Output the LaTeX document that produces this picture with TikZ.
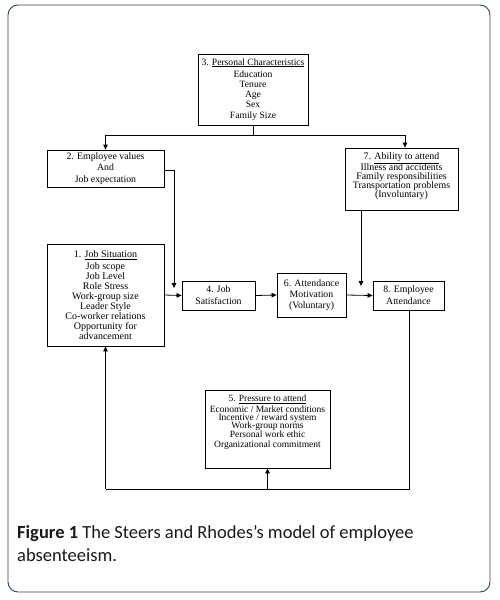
\documentclass[tikz,border=0pt]{standalone}
\usepackage{fontspec}
\setmainfont{Liberation Serif}
\newfontfamily\capfont{Carlito}
\usetikzlibrary{arrows.meta}
\definecolor{framecol}{RGB}{52,66,82}
\newcommand{\fsz}[2]{\fontsize{#1}{#2}\selectfont\lineskiplimit=-100pt\relax}
\begin{document}
\begin{tikzpicture}[x=1pt,y=-1pt,
  box/.style={draw=black,line width=0.8pt,inner sep=0pt,align=center,
    font=\fsz{9.8}{9.4}},
  txt/.style={inner sep=0pt,align=center},
  conn/.style={line width=0.8pt},
  arr/.style={line width=0.8pt,-{Triangle[length=5pt,width=4.5pt]}}]
\useasboundingbox (0,0) rectangle (499,600);
\draw[framecol,line width=0.9pt,rounded corners=10pt] (8,5) rectangle (490,592);
% boxes
\node[box,minimum width=110pt,minimum height=71pt,font=\fsz{9.6}{10}] (b3) at (253,89.5)
  {3. \underline{Personal Characteristics}\\[2pt]Education\\Tenure\\Age\\Sex\\[1.5pt]Family Size};
\node[box,minimum width=117pt,minimum height=37pt,font=\fsz{9.8}{11.7}] (b2) at (105.5,168.5)
  {2. Employee values\\And\\Job expectation};
\node[box,minimum width=113pt,minimum height=62pt] (b7) at (401.5,179) {};
\node[txt,font=\fsz{9.9}{8.8}] (t7) at (401.5,176)
  {7. \underline{Ability to attend}\\[2.5pt]Illness and accidents\\Family responsibilities\\Transportation problems\\(Involuntary)};
\node[box,minimum width=117pt,minimum height=102pt,font=\fsz{10}{10}] (b1) at (105.5,295)
  {1. \underline{Job Situation}\\[2pt]Job scope\\Job Level\\Role Stress\\Work-group size\\Leader Style\\Co-worker relations\\Opportunity for\\advancement};
\node[box,minimum width=73pt,minimum height=29pt,font=\fsz{9.8}{12}] (b4) at (218.5,295.5)
  {4. Job\\Satisfaction};
\node[box,minimum width=69pt,minimum height=44pt,font=\fsz{9.8}{11}] (b6) at (311.5,295)
  {6. Attendance\\Motivation\\(Voluntary)};
\node[box,minimum width=71pt,minimum height=29pt,font=\fsz{9.8}{12}] (b8) at (408.5,295.5)
  {8. Employee\\Attendance};
\node[box,minimum width=125pt,minimum height=78pt] (b5) at (267.5,429) {};
\node[txt,font=\fsz{9.5}{8.4}] (t5) at (267.5,422)
  {5. \underline{Pressure to attend}\\[2.5pt]Economic / Market conditions\\Incentive / reward system\\Work-group norms\\Personal work ethic\\[1.5pt]Organizational commitment};
% junction coordinates
\coordinate (j3) at (253,135);
\coordinate (j2) at (174,288);
\coordinate (j7s) at (361,210);
\coordinate (j7) at (361,286);
\coordinate (b8s) at (409,310);
\coordinate (jr) at (409,489);
\coordinate (jl) at (105.5,489);
\coordinate (jm) at (267.5,489);
% connectors
\draw[conn] (b3.south) -- (j3);
\draw[arr] (j3) -| (b2.north);
\draw[arr] (j3) -| ([xshift=3.5pt]b7.north);
\draw[arr] ([yshift=-1.5pt]b2.east) -| (j2);
\draw[arr] (b1.east) -- (b4.west);
\draw[arr] (b4.east) -- (b6.west);
\draw[arr] (b6.east) -- (b8.west);
\draw[arr] (j7s) -- (j7);
\draw[conn] (b8s) -- (jr) -- (jl);
\draw[arr] (jl) -- (b1.south);
\draw[arr] (jm) -- (b5.south);
% caption
\node[anchor=base west,inner sep=0pt,font=\capfont\fontsize{18.5}{22}\selectfont,text=black!90] (cap1) at (17,538)
  {\textbf{Figure 1} The Steers and Rhodes’s model of employee};
\node[anchor=base west,inner sep=0pt,font=\capfont\fontsize{18.5}{22}\selectfont,text=black!90] (cap2) at (17,561)
  {absenteeism.};
\end{tikzpicture}
\end{document}
